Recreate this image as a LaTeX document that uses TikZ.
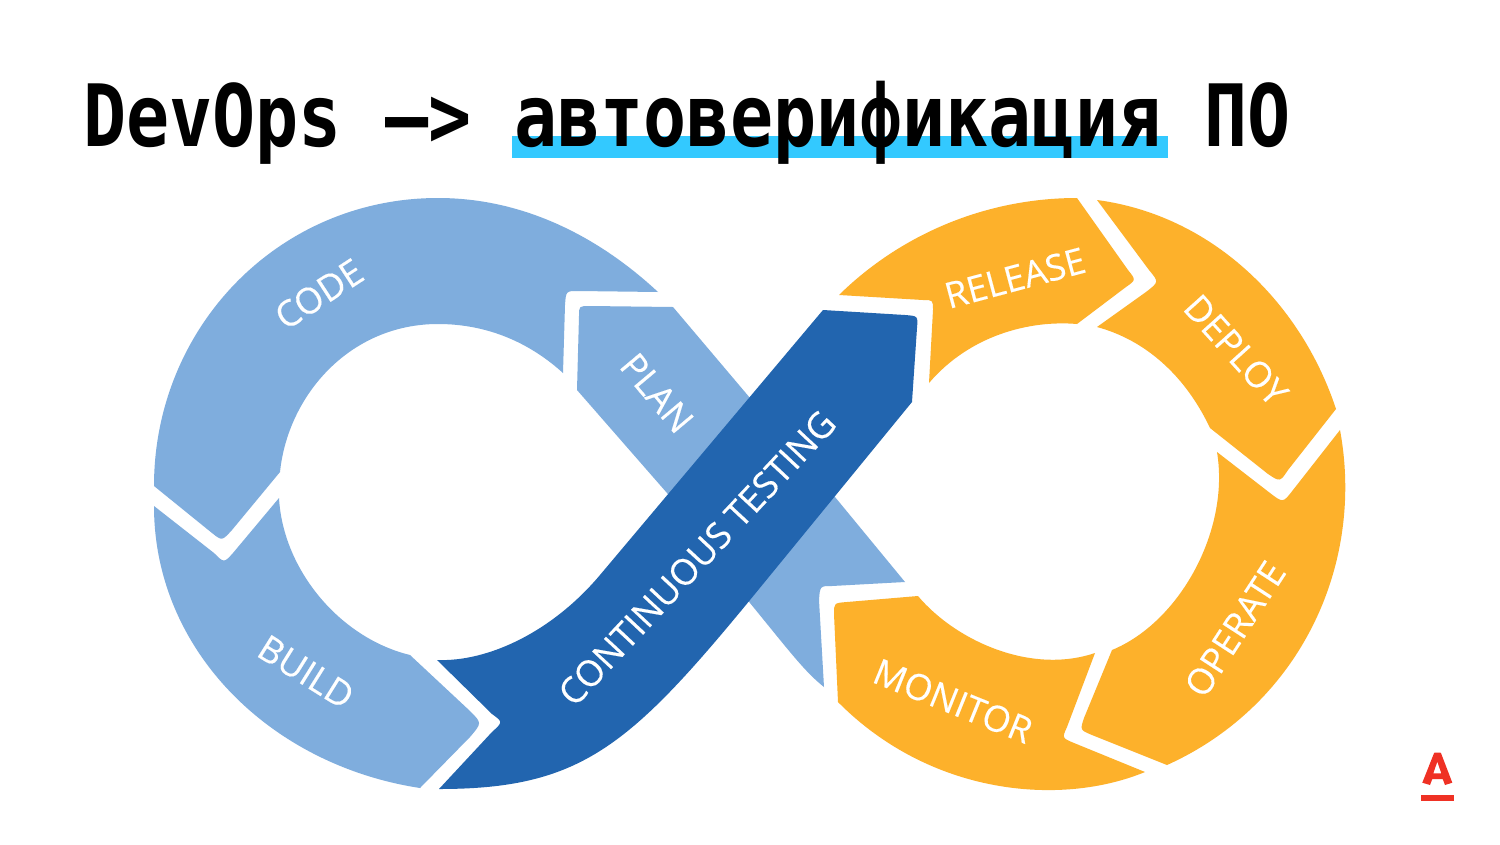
\documentclass[tikz,border=0pt]{standalone}
\usepackage{fontspec}
\setmainfont{Open Sans}
\newfontfamily\titlefont[FakeStretch=0.833]{DejaVu Sans Mono}
\newfontfamily\ribbonfont[FakeBold=0.3]{Open Sans}
\definecolor{lightblue}{HTML}{7FADDD}
\definecolor{darkblue}{HTML}{2265AF}
\definecolor{ambercol}{HTML}{FDB12B}
\definecolor{cyanbar}{HTML}{33C9FF}
\definecolor{logored}{HTML}{EF3124}
\tikzset{
  seglight/.style={fill=lightblue,draw=none},
  segdark/.style={fill=darkblue,draw=none},
  segamber/.style={fill=ambercol,draw=none},
  ribbonlabel/.style={text=white,inner sep=0pt,font=\ribbonfont\fontsize{36}{36}\selectfont},
  titletext/.style={text=black,inner sep=0pt,anchor=base west,font=\titlefont\bfseries\fontsize{86}{90}\selectfont}
}
\begin{document}
\begin{tikzpicture}[x=1pt,y=-1pt]
\useasboundingbox (0,0) rectangle (1500,844);
\fill[white] (0,0) rectangle (1500,844);
% title
\fill[cyanbar] (512,136) rectangle (1168,158);
\node[titletext] (title) at (83,146) {DevOps —> автоверификация ПО};
% PLAN
\fill[seglight] (579,316) .. controls (579,306) .. (590,306) -- (673,307)
  -- (750,398) -- (835,497) -- (905,582) -- (832,586) .. controls (820,586) .. (819,600)
  -- (824,687) .. controls (805,672) and (790,652) .. (750,603) -- (667,493) -- (577,390) -- cycle;
% CODE
\fill[seglight] (154,486)
  .. controls (154,328) and (278,198) .. (438,198)
  .. controls (525,198) and (600,238) .. (658,292)
  -- (578,291) .. controls (566,291) .. (565,305) -- (563,373)
  .. controls (530,343) and (488,324) .. (438,324)
  .. controls (350,324) and (288,395) .. (280,472)
  -- (232,530) .. controls (222,541) .. (212,533) -- cycle;
% BUILD
\fill[seglight] (154,506) -- (214,553) .. controls (224,563) .. (233,553) -- (279,498)
  .. controls (283,570) and (340,638) .. (410,655)
  -- (470,711) .. controls (482,723) .. (470,737) -- (420,788)
  .. controls (270,765) and (154,650) .. (154,506) -- cycle;
% CONTINUOUS TESTING
\fill[segdark] (437,660)
  .. controls (488,662) and (552,632) .. (600,575)
  -- (823,310) -- (905,315) .. controls (918,316) .. (917,328) -- (912,402) -- (750,600)
  .. controls (629,747) and (580,789) .. (439,789)
  -- (492,732) .. controls (503,722) .. (492,714) -- cycle;
% RELEASE
\fill[segamber] (839,295)
  .. controls (900,235) and (985,198) .. (1077,198)
  -- (1128,270) .. controls (1136,280) .. (1126,287) -- (1077,324)
  .. controls (1030,320) and (970,335) .. (929,383)
  -- (933,310) .. controls (933,300) .. (923,300) -- cycle;
% DEPLOY
\fill[segamber] (1097,200)
  .. controls (1210,215) and (1300,300) .. (1336,409)
  -- (1288,470) .. controls (1280,482) .. (1268,474) -- (1210,428)
  .. controls (1185,375) and (1145,340) .. (1097,327)
  -- (1146,292) .. controls (1159,282) .. (1149,270) -- cycle;
% OPERATE
\fill[segamber] (1217,452) -- (1270,493) .. controls (1283,503) .. (1293,490) -- (1340,430)
  .. controls (1365,565) and (1300,705) .. (1167,765)
  -- (1092,735) .. controls (1080,730) .. (1084,718) -- (1112,650)
  .. controls (1180,622) and (1230,530) .. (1217,452) -- cycle;
% MONITOR
\fill[segamber] (847,602) -- (918,596)
  .. controls (955,640) and (1030,675) .. (1095,653)
  -- (1067,727) .. controls (1062,738) .. (1074,743) -- (1145,772)
  .. controls (1060,807) and (930,795) .. (838,702)
  -- (834,614) .. controls (834,603) .. (847,602) -- cycle;
% labels
\node[ribbonlabel,rotate=33] (code) at (319,294) {CODE};
\node[ribbonlabel,rotate=-50] (plan) at (657,393) {PLAN};
\node[ribbonlabel,rotate=-32] (build) at (306,672) {BUILD};
\node[ribbonlabel,rotate=47] (testing) at (697,558) {CONTINUOUS TESTING};
\node[ribbonlabel,rotate=15] (release) at (1015,278) {RELEASE};
\node[ribbonlabel,rotate=-48] (deploy) at (1236,350) {DEPLOY};
\node[ribbonlabel,rotate=57] (operate) at (1235,629) {OPERATE};
\node[ribbonlabel,rotate=-22] (monitor) at (953,701) {MONITOR};
% logo
\fill[logored,even odd rule] (1422.3,782.7) -- (1433.3,755) .. controls (1434,752.5) .. (1436,752.5) -- (1439,752.5) .. controls (1441,752.5) .. (1441.7,755)
  -- (1452.3,782.7) -- (1445,785) -- (1442.7,779) -- (1432.3,779) -- (1430,785) -- cycle
  (1437.3,761.7) -- (1433.3,773.3) -- (1441.3,773.3) -- cycle;
\fill[logored] (1421,795) rectangle (1454,801);
\end{tikzpicture}
\end{document}
